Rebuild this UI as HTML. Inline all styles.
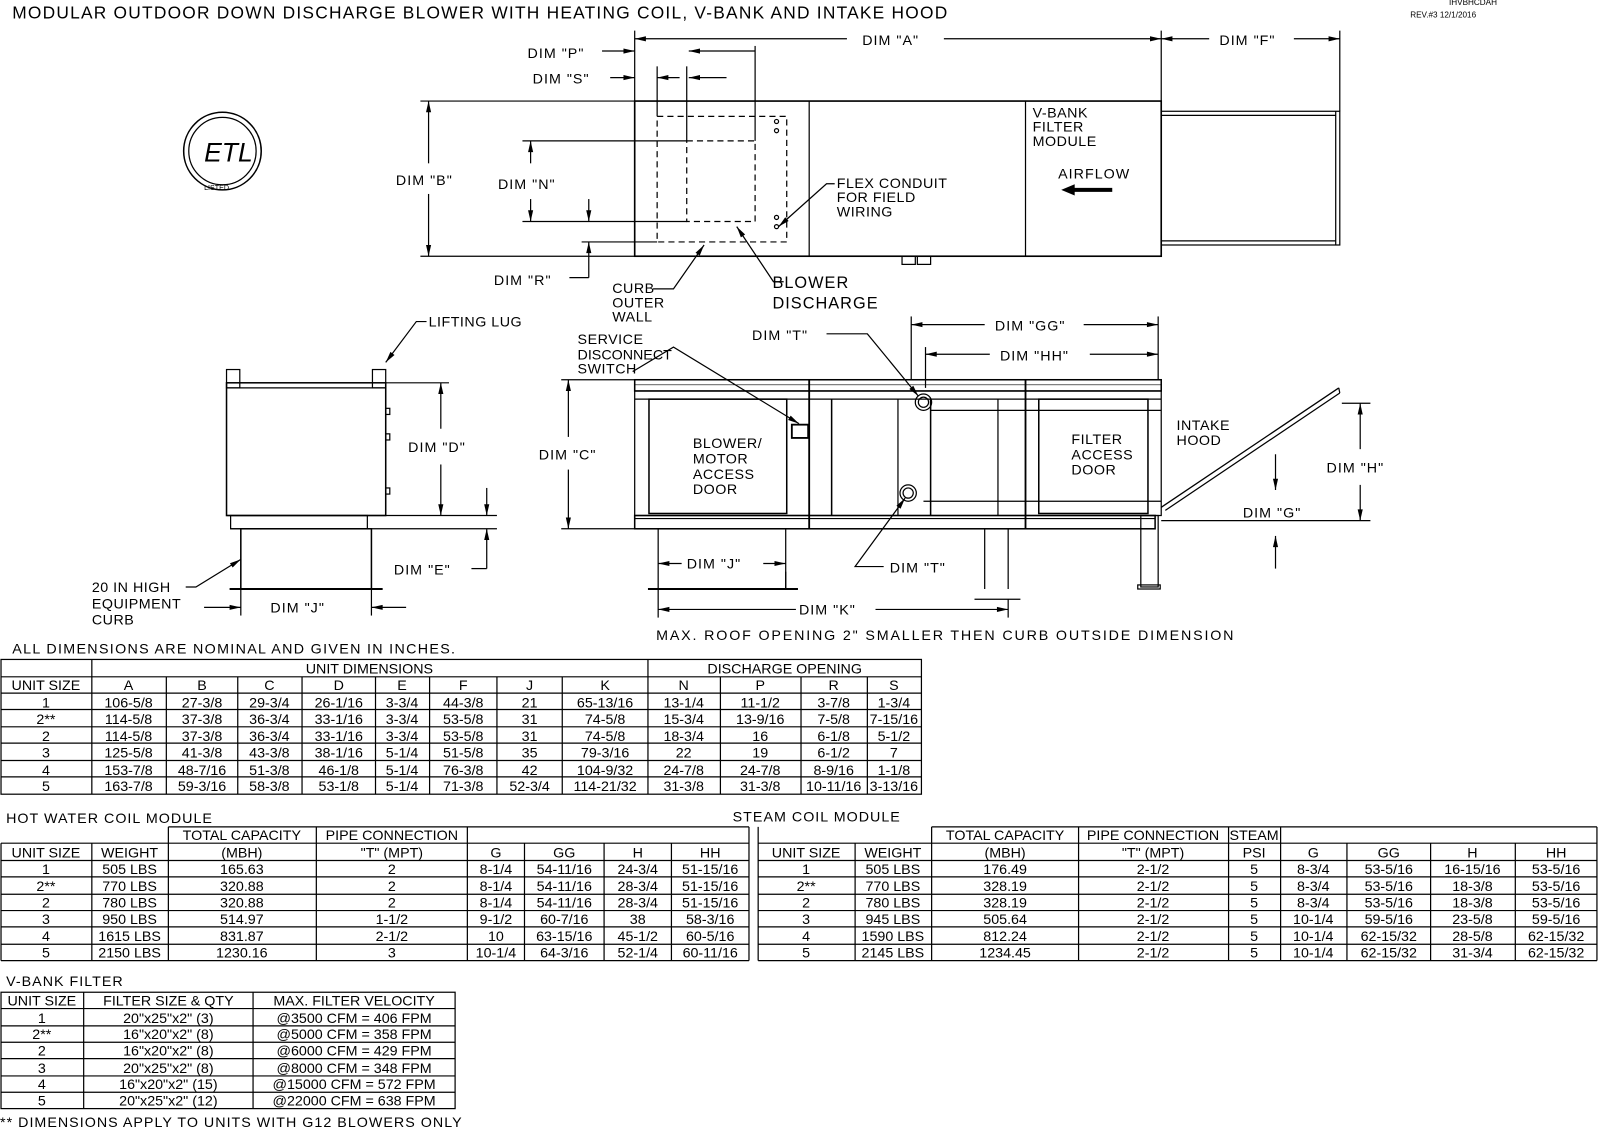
<!DOCTYPE html>
<html><head><meta charset="utf-8"><style>
html,body{margin:0;padding:0;background:#fff;}
svg{display:block}
text{font-family:"Liberation Sans Narrow","Liberation Sans",sans-serif;fill:#000;font-size:14px;}
.t{font-size:13.5px;text-anchor:middle}
.l{font-size:15px;letter-spacing:1px}
.s{font-size:13px;letter-spacing:.5px}
</style></head><body>
<svg width="1600" height="1128" viewBox="0 0 1568 1105" preserveAspectRatio="none" xmlns="http://www.w3.org/2000/svg" xmlns:xlink="http://www.w3.org/1999/xlink">
<defs>
<path id="ar" d="M0,0 L-11,-2.5 L-11,2.5 Z" fill="#000" stroke="none"/>
</defs>
<g stroke="#000" fill="none" stroke-width="1.2">
<!-- TOP VIEW -->
<rect x="622" y="99" width="516" height="152" stroke-width="1.6"/>
<line x1="793" y1="99" x2="793" y2="251"/><line x1="1005" y1="99" x2="1005" y2="251"/>
<rect x="1138" y="109" width="175" height="131"/>
<line x1="1138" y1="113" x2="1309" y2="113"/><line x1="1138" y1="236" x2="1309" y2="236"/><line x1="1309" y1="109" x2="1309" y2="240"/>
<rect x="644" y="114" width="127" height="123" stroke-dasharray="6,4"/>
<rect x="673" y="138" width="67" height="79" stroke-dasharray="6,4"/>
<circle cx="761" cy="119" r="2"/><circle cx="761" cy="128" r="2"/><circle cx="761" cy="213" r="2"/><circle cx="761" cy="222" r="2"/>
<rect x="884" y="251" width="13" height="8"/><rect x="899" y="251" width="13" height="8"/>
<line x1="622" y1="30" x2="622" y2="99"/><line x1="1138" y1="30" x2="1138" y2="99"/><line x1="1313" y1="30" x2="1313" y2="109"/>
<line x1="622" y1="38" x2="830" y2="38"/><line x1="925" y1="38" x2="1138" y2="38"/>
<line x1="1138" y1="38" x2="1185" y2="38"/><line x1="1268" y1="38" x2="1313" y2="38"/>
<line x1="740" y1="45" x2="740" y2="138"/><line x1="673" y1="65" x2="673" y2="138"/><line x1="644" y1="65" x2="644" y2="114"/>
<line x1="590" y1="50" x2="622" y2="50"/><line x1="675" y1="50" x2="740" y2="50"/>
<line x1="598" y1="76" x2="622" y2="76"/><line x1="644" y1="76" x2="666" y2="76"/>
<line x1="675" y1="76" x2="712" y2="76"/>
<line x1="412" y1="99" x2="622" y2="99"/><line x1="412" y1="251" x2="622" y2="251"/>
<line x1="420" y1="99" x2="420" y2="160"/><line x1="420" y1="190" x2="420" y2="251"/>
<line x1="512" y1="138" x2="673" y2="138"/><line x1="512" y1="217" x2="673" y2="217"/>
<line x1="520" y1="138" x2="520" y2="160"/><line x1="520" y1="195" x2="520" y2="217"/>
<line x1="577" y1="195" x2="577" y2="217"/><line x1="570" y1="237" x2="644" y2="237"/>
<line x1="577" y1="237" x2="577" y2="251"/><line x1="577" y1="251" x2="577" y2="272"/><line x1="558" y1="272" x2="577" y2="272"/>
<polyline points="818,180 810,180 763,222" />
<polyline points="640,283 660,283 690,240"/>
<polyline points="768,276 758,276 722,222"/>
<line x1="1090" y1="186" x2="1050" y2="186" stroke-width="4"/>
<circle cx="218" cy="148" r="38" stroke-width="1.5"/><circle cx="218" cy="148" r="33"/>
<!-- END VIEW -->
<rect x="222" y="375" width="156" height="130" stroke-width="1.5"/>
<line x1="222" y1="380" x2="378" y2="380"/>
<rect x="222" y="362" width="13" height="18"/><rect x="365" y="362" width="13" height="18"/>
<rect x="226" y="505" width="134" height="13"/><line x1="222" y1="505" x2="378" y2="505"/><line x1="226" y1="518" x2="364" y2="518"/>
<rect x="236" y="518" width="128" height="59" stroke-width="1.5"/><line x1="225" y1="577" x2="375" y2="577" stroke-width="2"/>
<rect x="378" y="400" width="4" height="6"/><rect x="378" y="425" width="4" height="6"/><rect x="378" y="478" width="4" height="6"/>
<line x1="378" y1="375" x2="440" y2="375"/><line x1="378" y1="505" x2="487" y2="505"/><line x1="364" y1="518" x2="487" y2="518"/>
<line x1="432" y1="375" x2="432" y2="420"/><line x1="432" y1="455" x2="432" y2="505"/>
<line x1="477" y1="478" x2="477" y2="505"/><line x1="477" y1="518" x2="477" y2="557"/><line x1="462" y1="557" x2="477" y2="557"/>
<line x1="236" y1="577" x2="236" y2="603"/><line x1="364" y1="577" x2="364" y2="603"/>
<line x1="200" y1="595" x2="236" y2="595"/><line x1="364" y1="595" x2="398" y2="595"/>
<polyline points="418,315 408,315 378,355"/>
<polyline points="182,575 192,575 236,548"/>
<!-- SIDE VIEW -->
<rect x="622" y="372" width="516" height="11" stroke-width="1.5"/><line x1="622" y1="377" x2="1138" y2="377" stroke-width=".6"/>
<rect x="622" y="383" width="516" height="122"/>
<rect x="622" y="505" width="510" height="13" stroke-width="1.5"/><line x1="622" y1="508" x2="1132" y2="508"/>
<line x1="793" y1="372" x2="793" y2="518" stroke-width="1.8"/><line x1="1005" y1="372" x2="1005" y2="518" stroke-width="1.8"/>
<line x1="622" y1="391" x2="1138" y2="391"/>
<rect x="636" y="391" width="135" height="112" stroke-width="1.5"/>
<line x1="815" y1="391" x2="815" y2="505" stroke-width="1.5"/><line x1="880" y1="391" x2="880" y2="505"/>
<line x1="912" y1="391" x2="912" y2="505" stroke-width="1.5"/><line x1="978" y1="391" x2="978" y2="505"/>
<line x1="912" y1="402" x2="1138" y2="402"/><line x1="905" y1="491" x2="1138" y2="491"/>
<rect x="1018" y="391" width="107" height="112" stroke-width="1.5"/>
<rect x="1118" y="505" width="17" height="70"/><rect x="1115" y="573" width="22" height="4"/>
<line x1="965" y1="518" x2="965" y2="577"/><line x1="988" y1="518" x2="988" y2="577"/><line x1="955" y1="587" x2="1000" y2="587"/>
<line x1="1138" y1="497" x2="1312" y2="380" stroke-width="1.3"/><line x1="1142" y1="500" x2="1313" y2="385"/><line x1="1312" y1="380" x2="1313" y2="385"/>
<rect x="645" y="518" width="125" height="59"/><line x1="635" y1="577" x2="782" y2="577" stroke-width="2"/>
<circle cx="905" cy="394" r="8"/><circle cx="905" cy="394" r="5"/><circle cx="890" cy="483" r="8"/><circle cx="890" cy="483" r="5"/>
<rect x="776" y="416" width="16" height="13" stroke-width="1.8"/>
<line x1="550" y1="372" x2="622" y2="372"/><line x1="550" y1="518" x2="622" y2="518"/>
<line x1="557" y1="372" x2="557" y2="428"/><line x1="557" y1="460" x2="557" y2="518"/>
<line x1="893" y1="310" x2="893" y2="372"/><line x1="907" y1="340" x2="907" y2="380"/><line x1="1135" y1="310" x2="1135" y2="372"/>
<line x1="893" y1="318" x2="965" y2="318"/><line x1="1062" y1="318" x2="1135" y2="318"/>
<line x1="907" y1="347" x2="970" y2="347"/><line x1="1068" y1="347" x2="1135" y2="347"/>
<polyline points="810,327 850,327 900,388"/>
<polyline points="866,555 838,555 887,488"/>
<polyline points="620,364 660,340 783,415"/>
<line x1="1315" y1="395" x2="1343" y2="395"/><line x1="1138" y1="510" x2="1343" y2="510"/>
<line x1="1333" y1="395" x2="1333" y2="440"/><line x1="1333" y1="475" x2="1333" y2="510"/>
<line x1="1250" y1="445" x2="1250" y2="480"/><line x1="1250" y1="525" x2="1250" y2="557"/>
<line x1="645" y1="577" x2="645" y2="605"/><line x1="770" y1="577" x2="770" y2="560"/>
<line x1="645" y1="552" x2="668" y2="552"/><line x1="748" y1="552" x2="770" y2="552"/>
<line x1="988" y1="587" x2="988" y2="605"/>
<line x1="645" y1="597" x2="780" y2="597"/><line x1="858" y1="597" x2="988" y2="597"/>
</g>
<!-- ARROWHEADS -->
<g>
<use xlink:href="#ar" transform="translate(622,38) rotate(180)"/><use xlink:href="#ar" transform="translate(1138,38)"/>
<use xlink:href="#ar" transform="translate(1138,38) rotate(180)"/><use xlink:href="#ar" transform="translate(1313,38)"/>
<use xlink:href="#ar" transform="translate(622,50)"/><use xlink:href="#ar" transform="translate(675,50) rotate(180)"/>
<use xlink:href="#ar" transform="translate(622,76)"/><use xlink:href="#ar" transform="translate(644,76) rotate(180)"/><use xlink:href="#ar" transform="translate(675,76) rotate(180)"/>
<use xlink:href="#ar" transform="translate(420,99) rotate(-90)"/><use xlink:href="#ar" transform="translate(420,251) rotate(90)"/>
<use xlink:href="#ar" transform="translate(520,138) rotate(-90)"/><use xlink:href="#ar" transform="translate(520,217) rotate(90)"/>
<use xlink:href="#ar" transform="translate(577,217) rotate(90)"/><use xlink:href="#ar" transform="translate(577,237) rotate(-90)"/>
<use xlink:href="#ar" transform="translate(763,222) rotate(138)"/>
<use xlink:href="#ar" transform="translate(690,240) rotate(-55)"/>
<use xlink:href="#ar" transform="translate(722,222) rotate(-124)"/>
<use xlink:href="#ar" transform="translate(1040,186) rotate(180) scale(1.2,2.2)"/>
<use xlink:href="#ar" transform="translate(432,375) rotate(-90)"/><use xlink:href="#ar" transform="translate(432,505) rotate(90)"/>
<use xlink:href="#ar" transform="translate(477,505) rotate(90)"/><use xlink:href="#ar" transform="translate(477,518) rotate(-90)"/>
<use xlink:href="#ar" transform="translate(236,595)"/><use xlink:href="#ar" transform="translate(364,595) rotate(180)"/>
<use xlink:href="#ar" transform="translate(378,355) rotate(127)"/>
<use xlink:href="#ar" transform="translate(236,548) rotate(-32)"/>
<use xlink:href="#ar" transform="translate(557,372) rotate(-90)"/><use xlink:href="#ar" transform="translate(557,518) rotate(90)"/>
<use xlink:href="#ar" transform="translate(893,318) rotate(180)"/><use xlink:href="#ar" transform="translate(1135,318)"/>
<use xlink:href="#ar" transform="translate(907,347) rotate(180)"/><use xlink:href="#ar" transform="translate(1135,347)"/>
<use xlink:href="#ar" transform="translate(900,388) rotate(51)"/>
<use xlink:href="#ar" transform="translate(887,488) rotate(-54)"/>
<use xlink:href="#ar" transform="translate(783,415) rotate(31)"/>
<use xlink:href="#ar" transform="translate(1333,395) rotate(-90)"/><use xlink:href="#ar" transform="translate(1333,510) rotate(90)"/>
<use xlink:href="#ar" transform="translate(1250,480) rotate(90)"/><use xlink:href="#ar" transform="translate(1250,525) rotate(-90)"/>
<use xlink:href="#ar" transform="translate(645,552) rotate(180)"/><use xlink:href="#ar" transform="translate(770,552)"/>
<use xlink:href="#ar" transform="translate(645,597) rotate(180)"/><use xlink:href="#ar" transform="translate(988,597)"/>
</g>
<!-- TEXT -->
<text x="12" y="18" class="l" style="font-size:17px;letter-spacing:1.2px">MODULAR OUTDOOR DOWN DISCHARGE BLOWER WITH HEATING COIL, V-BANK AND INTAKE HOOD</text>
<text x="1420" y="5" style="font-size:8px">IHVBHCDAH</text>
<text x="1382" y="17" style="font-size:8px">REV.#3   12/1/2016</text>
<text x="200" y="158" style="font-size:26px;font-style:italic">ETL</text>
<text x="200" y="186" style="font-size:7px">LISTED</text>
<g class="l">
<text x="845" y="44">DIM "A"</text><text x="1195" y="44">DIM "F"</text>
<text x="517" y="57">DIM "P"</text><text x="522" y="82">DIM "S"</text>
<text x="388" y="181">DIM "B"</text><text x="488" y="185">DIM "N"</text><text x="484" y="279">DIM "R"</text>
<text x="757" y="282" style="font-size:16px">BLOWER</text><text x="757" y="302" style="font-size:16px">DISCHARGE</text>
<text x="1037" y="175">AIRFLOW</text>
<text x="400" y="443">DIM "D"</text><text x="386" y="563">DIM "E"</text><text x="265" y="600">DIM "J"</text>
<text x="528" y="450">DIM "C"</text><text x="737" y="333">DIM "T"</text><text x="975" y="324">DIM "GG"</text><text x="980" y="353">DIM "HH"</text>
<text x="1300" y="463">DIM "H"</text><text x="1218" y="507">DIM "G"</text>
<text x="673" y="557">DIM "J"</text><text x="872" y="561">DIM "T"</text><text x="783" y="602">DIM "K"</text>
<text x="643" y="627" style="letter-spacing:1.8px">MAX. ROOF OPENING 2" SMALLER THEN CURB OUTSIDE DIMENSION</text>
<text x="12" y="640" style="letter-spacing:1.3px">ALL DIMENSIONS ARE NOMINAL AND GIVEN IN INCHES.</text>
<text x="6" y="806">HOT WATER COIL MODULE</text><text x="718" y="805">STEAM COIL MODULE</text>
<text x="6" y="966">V-BANK FILTER</text>
<text x="0" y="1104">** DIMENSIONS APPLY TO UNITS WITH G12 BLOWERS ONLY</text>
</g>
<g class="s">
<text x="1012" y="115">V-BANK</text><text x="1012" y="129">FILTER</text><text x="1012" y="143">MODULE</text>
<text x="820" y="184">FLEX CONDUIT</text><text x="820" y="198">FOR FIELD</text><text x="820" y="212">WIRING</text>
<text x="600" y="287">CURB</text><text x="600" y="301">OUTER</text><text x="600" y="315">WALL</text>
<text x="420" y="320">LIFTING LUG</text>
<text x="90" y="580">20 IN HIGH</text><text x="90" y="596">EQUIPMENT</text><text x="90" y="612">CURB</text>
<text x="566" y="337">SERVICE</text><text x="566" y="352" style="letter-spacing:0">DISCONNECT</text><text x="566" y="366">SWITCH</text>
<text x="679" y="439">BLOWER/</text><text x="679" y="454">MOTOR</text><text x="679" y="469">ACCESS</text><text x="679" y="484">DOOR</text>
<text x="1050" y="435">FILTER</text><text x="1050" y="450">ACCESS</text><text x="1050" y="465">DOOR</text>
<text x="1153" y="421">INTAKE</text><text x="1153" y="436">HOOD</text>
</g>
<!-- TABLE 1 -->
<g stroke="#000" stroke-width="1.2">
<rect x="1" y="646" width="902" height="132" fill="none"/>
<line x1="1" y1="663" x2="903" y2="663"/><line x1="1" y1="679" x2="903" y2="679"/><line x1="1" y1="695" x2="903" y2="695"/><line x1="1" y1="712" x2="903" y2="712"/><line x1="1" y1="728" x2="903" y2="728"/><line x1="1" y1="745" x2="903" y2="745"/><line x1="1" y1="761" x2="903" y2="761"/>
<line x1="90" y1="646" x2="90" y2="778"/><line x1="635" y1="646" x2="635" y2="778"/>
<line x1="163" y1="663" x2="163" y2="778"/><line x1="233" y1="663" x2="233" y2="778"/><line x1="296" y1="663" x2="296" y2="778"/><line x1="368" y1="663" x2="368" y2="778"/><line x1="421" y1="663" x2="421" y2="778"/><line x1="487" y1="663" x2="487" y2="778"/><line x1="551" y1="663" x2="551" y2="778"/><line x1="706" y1="663" x2="706" y2="778"/><line x1="785" y1="663" x2="785" y2="778"/><line x1="850" y1="663" x2="850" y2="778"/>
</g>
<g class="t">
<text x="362" y="660">UNIT DIMENSIONS</text><text x="769" y="660">DISCHARGE OPENING</text>
<text x="45" y="676">UNIT SIZE</text><text x="126" y="676">A</text><text x="198" y="676">B</text><text x="264" y="676">C</text><text x="332" y="676">D</text><text x="394" y="676">E</text><text x="454" y="676">F</text><text x="519" y="676">J</text><text x="593" y="676">K</text><text x="670" y="676">N</text><text x="745" y="676">P</text><text x="817" y="676">R</text><text x="876" y="676">S</text>
<text x="45" y="693">1</text><text x="126" y="693">106-5/8</text><text x="198" y="693">27-3/8</text><text x="264" y="693">29-3/4</text><text x="332" y="693">26-1/16</text><text x="394" y="693">3-3/4</text><text x="454" y="693">44-3/8</text><text x="519" y="693">21</text><text x="593" y="693">65-13/16</text><text x="670" y="693">13-1/4</text><text x="745" y="693">11-1/2</text><text x="817" y="693">3-7/8</text><text x="876" y="693">1-3/4</text>
<text x="45" y="709">2**</text><text x="126" y="709">114-5/8</text><text x="198" y="709">37-3/8</text><text x="264" y="709">36-3/4</text><text x="332" y="709">33-1/16</text><text x="394" y="709">3-3/4</text><text x="454" y="709">53-5/8</text><text x="519" y="709">31</text><text x="593" y="709">74-5/8</text><text x="670" y="709">15-3/4</text><text x="745" y="709">13-9/16</text><text x="817" y="709">7-5/8</text><text x="876" y="709">7-15/16</text>
<text x="45" y="726">2</text><text x="126" y="726">114-5/8</text><text x="198" y="726">37-3/8</text><text x="264" y="726">36-3/4</text><text x="332" y="726">33-1/16</text><text x="394" y="726">3-3/4</text><text x="454" y="726">53-5/8</text><text x="519" y="726">31</text><text x="593" y="726">74-5/8</text><text x="670" y="726">18-3/4</text><text x="745" y="726">16</text><text x="817" y="726">6-1/8</text><text x="876" y="726">5-1/2</text>
<text x="45" y="742">3</text><text x="126" y="742">125-5/8</text><text x="198" y="742">41-3/8</text><text x="264" y="742">43-3/8</text><text x="332" y="742">38-1/16</text><text x="394" y="742">5-1/4</text><text x="454" y="742">51-5/8</text><text x="519" y="742">35</text><text x="593" y="742">79-3/16</text><text x="670" y="742">22</text><text x="745" y="742">19</text><text x="817" y="742">6-1/2</text><text x="876" y="742">7</text>
<text x="45" y="759">4</text><text x="126" y="759">153-7/8</text><text x="198" y="759">48-7/16</text><text x="264" y="759">51-3/8</text><text x="332" y="759">46-1/8</text><text x="394" y="759">5-1/4</text><text x="454" y="759">76-3/8</text><text x="519" y="759">42</text><text x="593" y="759">104-9/32</text><text x="670" y="759">24-7/8</text><text x="745" y="759">24-7/8</text><text x="817" y="759">8-9/16</text><text x="876" y="759">1-1/8</text>
<text x="45" y="775">5</text><text x="126" y="775">163-7/8</text><text x="198" y="775">59-3/16</text><text x="264" y="775">58-3/8</text><text x="332" y="775">53-1/8</text><text x="394" y="775">5-1/4</text><text x="454" y="775">71-3/8</text><text x="519" y="775">52-3/4</text><text x="593" y="775">114-21/32</text><text x="670" y="775">31-3/8</text><text x="745" y="775">31-3/8</text><text x="817" y="775">10-11/16</text><text x="876" y="775">3-13/16</text>
</g>
<!-- TABLE HOT WATER -->
<g stroke="#000" stroke-width="1.2">
<line x1="165" y1="810" x2="734" y2="810"/><line x1="1" y1="826" x2="734" y2="826"/><line x1="1" y1="843" x2="734" y2="843"/><line x1="1" y1="859" x2="734" y2="859"/><line x1="1" y1="876" x2="734" y2="876"/><line x1="1" y1="892" x2="734" y2="892"/><line x1="1" y1="908" x2="734" y2="908"/><line x1="1" y1="925" x2="734" y2="925"/><line x1="1" y1="941" x2="734" y2="941"/>
<line x1="1" y1="826" x2="1" y2="941"/><line x1="90" y1="826" x2="90" y2="941"/><line x1="165" y1="810" x2="165" y2="941"/><line x1="310" y1="810" x2="310" y2="941"/><line x1="458" y1="810" x2="458" y2="941"/><line x1="514" y1="826" x2="514" y2="941"/><line x1="592" y1="826" x2="592" y2="941"/><line x1="658" y1="826" x2="658" y2="941"/><line x1="734" y1="810" x2="734" y2="941"/>
</g>
<g class="t">
<text x="237" y="823">TOTAL CAPACITY</text><text x="384" y="823">PIPE CONNECTION</text>
<text x="45" y="840">UNIT SIZE</text><text x="127" y="840">WEIGHT</text><text x="237" y="840">(MBH)</text><text x="384" y="840">"T" (MPT)</text><text x="486" y="840">G</text><text x="553" y="840">GG</text><text x="625" y="840">H</text><text x="696" y="840">HH</text>
<text x="45" y="856">1</text><text x="127" y="856">505 LBS</text><text x="237" y="856">165.63</text><text x="384" y="856">2</text><text x="486" y="856">8-1/4</text><text x="553" y="856">54-11/16</text><text x="625" y="856">24-3/4</text><text x="696" y="856">51-15/16</text>
<text x="45" y="873">2**</text><text x="127" y="873">770 LBS</text><text x="237" y="873">320.88</text><text x="384" y="873">2</text><text x="486" y="873">8-1/4</text><text x="553" y="873">54-11/16</text><text x="625" y="873">28-3/4</text><text x="696" y="873">51-15/16</text>
<text x="45" y="889">2</text><text x="127" y="889">780 LBS</text><text x="237" y="889">320.88</text><text x="384" y="889">2</text><text x="486" y="889">8-1/4</text><text x="553" y="889">54-11/16</text><text x="625" y="889">28-3/4</text><text x="696" y="889">51-15/16</text>
<text x="45" y="905">3</text><text x="127" y="905">950 LBS</text><text x="237" y="905">514.97</text><text x="384" y="905">1-1/2</text><text x="486" y="905">9-1/2</text><text x="553" y="905">60-7/16</text><text x="625" y="905">38</text><text x="696" y="905">58-3/16</text>
<text x="45" y="922">4</text><text x="127" y="922">1615 LBS</text><text x="237" y="922">831.87</text><text x="384" y="922">2-1/2</text><text x="486" y="922">10</text><text x="553" y="922">63-15/16</text><text x="625" y="922">45-1/2</text><text x="696" y="922">60-5/16</text>
<text x="45" y="938">5</text><text x="127" y="938">2150 LBS</text><text x="237" y="938">1230.16</text><text x="384" y="938">3</text><text x="486" y="938">10-1/4</text><text x="553" y="938">64-3/16</text><text x="625" y="938">52-1/4</text><text x="696" y="938">60-11/16</text>
</g>
<!-- TABLE STEAM -->
<g stroke="#000" stroke-width="1.2">
<line x1="913" y1="810" x2="1565" y2="810"/><line x1="743" y1="826" x2="1565" y2="826"/><line x1="743" y1="843" x2="1565" y2="843"/><line x1="743" y1="859" x2="1565" y2="859"/><line x1="743" y1="876" x2="1565" y2="876"/><line x1="743" y1="892" x2="1565" y2="892"/><line x1="743" y1="908" x2="1565" y2="908"/><line x1="743" y1="925" x2="1565" y2="925"/><line x1="743" y1="941" x2="1565" y2="941"/>
<line x1="743" y1="810" x2="743" y2="941"/><line x1="838" y1="826" x2="838" y2="941"/><line x1="913" y1="810" x2="913" y2="941"/><line x1="1057" y1="810" x2="1057" y2="941"/><line x1="1204" y1="810" x2="1204" y2="941"/><line x1="1255" y1="810" x2="1255" y2="941"/><line x1="1320" y1="826" x2="1320" y2="941"/><line x1="1402" y1="826" x2="1402" y2="941"/><line x1="1485" y1="826" x2="1485" y2="941"/><line x1="1565" y1="810" x2="1565" y2="941"/>
</g>
<g class="t">
<text x="985" y="823">TOTAL CAPACITY</text><text x="1130" y="823">PIPE CONNECTION</text><text x="1229" y="823">STEAM</text>
<text x="790" y="840">UNIT SIZE</text><text x="875" y="840">WEIGHT</text><text x="985" y="840">(MBH)</text><text x="1130" y="840">"T" (MPT)</text><text x="1229" y="840">PSI</text><text x="1287" y="840">G</text><text x="1361" y="840">GG</text><text x="1443" y="840">H</text><text x="1525" y="840">HH</text>
<text x="790" y="856">1</text><text x="875" y="856">505 LBS</text><text x="985" y="856">176.49</text><text x="1130" y="856">2-1/2</text><text x="1229" y="856">5</text><text x="1287" y="856">8-3/4</text><text x="1361" y="856">53-5/16</text><text x="1443" y="856">16-15/16</text><text x="1525" y="856">53-5/16</text>
<text x="790" y="873">2**</text><text x="875" y="873">770 LBS</text><text x="985" y="873">328.19</text><text x="1130" y="873">2-1/2</text><text x="1229" y="873">5</text><text x="1287" y="873">8-3/4</text><text x="1361" y="873">53-5/16</text><text x="1443" y="873">18-3/8</text><text x="1525" y="873">53-5/16</text>
<text x="790" y="889">2</text><text x="875" y="889">780 LBS</text><text x="985" y="889">328.19</text><text x="1130" y="889">2-1/2</text><text x="1229" y="889">5</text><text x="1287" y="889">8-3/4</text><text x="1361" y="889">53-5/16</text><text x="1443" y="889">18-3/8</text><text x="1525" y="889">53-5/16</text>
<text x="790" y="905">3</text><text x="875" y="905">945 LBS</text><text x="985" y="905">505.64</text><text x="1130" y="905">2-1/2</text><text x="1229" y="905">5</text><text x="1287" y="905">10-1/4</text><text x="1361" y="905">59-5/16</text><text x="1443" y="905">23-5/8</text><text x="1525" y="905">59-5/16</text>
<text x="790" y="922">4</text><text x="875" y="922">1590 LBS</text><text x="985" y="922">812.24</text><text x="1130" y="922">2-1/2</text><text x="1229" y="922">5</text><text x="1287" y="922">10-1/4</text><text x="1361" y="922">62-15/32</text><text x="1443" y="922">28-5/8</text><text x="1525" y="922">62-15/32</text>
<text x="790" y="938">5</text><text x="875" y="938">2145 LBS</text><text x="985" y="938">1234.45</text><text x="1130" y="938">2-1/2</text><text x="1229" y="938">5</text><text x="1287" y="938">10-1/4</text><text x="1361" y="938">62-15/32</text><text x="1443" y="938">31-3/4</text><text x="1525" y="938">62-15/32</text>
</g>
<!-- V-BANK TABLE -->
<g stroke="#000" stroke-width="1.2">
<rect x="1" y="972" width="445" height="114" fill="none"/>
<line x1="1" y1="988" x2="446" y2="988"/><line x1="1" y1="1005" x2="446" y2="1005"/><line x1="1" y1="1021" x2="446" y2="1021"/><line x1="1" y1="1037" x2="446" y2="1037"/><line x1="1" y1="1054" x2="446" y2="1054"/><line x1="1" y1="1070" x2="446" y2="1070"/>
<line x1="82" y1="972" x2="82" y2="1086"/><line x1="248" y1="972" x2="248" y2="1086"/>
</g>
<g class="t">
<text x="41" y="985">UNIT SIZE</text><text x="165" y="985">FILTER SIZE &amp; QTY</text><text x="347" y="985">MAX. FILTER VELOCITY</text>
<text x="41" y="1002">1</text><text x="165" y="1002">20"x25"x2" (3)</text><text x="347" y="1002">@3500 CFM = 406 FPM</text>
<text x="41" y="1018">2**</text><text x="165" y="1018">16"x20"x2" (8)</text><text x="347" y="1018">@5000 CFM = 358 FPM</text>
<text x="41" y="1034">2</text><text x="165" y="1034">16"x20"x2" (8)</text><text x="347" y="1034">@6000 CFM = 429 FPM</text>
<text x="41" y="1051">3</text><text x="165" y="1051">20"x25"x2" (8)</text><text x="347" y="1051">@8000 CFM = 348 FPM</text>
<text x="41" y="1067">4</text><text x="165" y="1067">16"x20"x2" (15)</text><text x="347" y="1067">@15000 CFM = 572 FPM</text>
<text x="41" y="1083">5</text><text x="165" y="1083">20"x25"x2" (12)</text><text x="347" y="1083">@22000 CFM = 638 FPM</text>
</g>
</svg>
</body></html>
